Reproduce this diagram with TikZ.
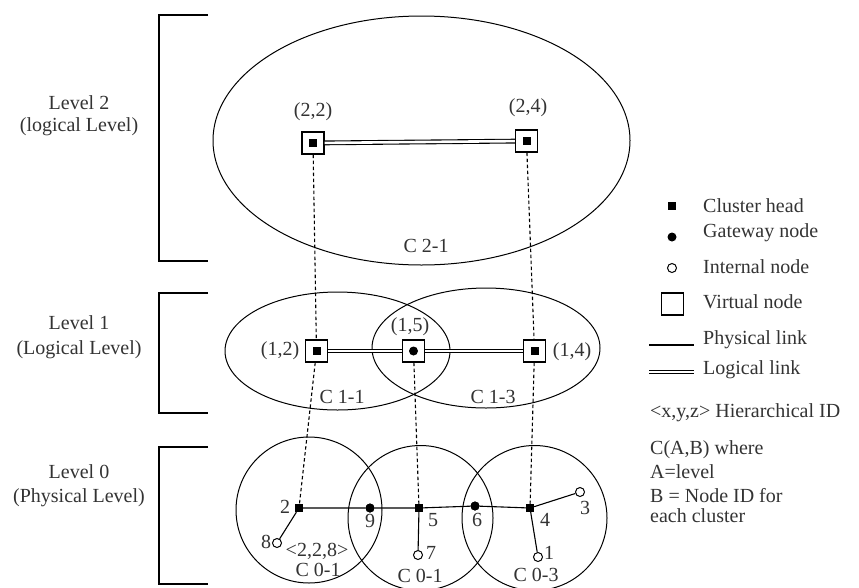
\documentclass[tikz,border=0pt]{standalone}
\usepackage{fontspec}
\setmainfont{Liberation Serif}
\begin{document}
\begin{tikzpicture}[x=1pt,y=-1pt,
  txt/.style={text=black!80, font=\fontsize{20}{22}\selectfont, inner sep=0pt},
  vnode/.style={draw, line width=1.3pt, minimum size=22pt, inner sep=0pt, fill=white},
  chead/.style={fill=black, minimum size=8pt, inner sep=0pt},
  gw/.style={circle, fill=black, minimum size=9pt, inner sep=0pt},
  inode/.style={circle, draw, line width=1pt, fill=white, minimum size=9pt, inner sep=0pt},
  clus/.style={line width=1pt},
  brk/.style={line width=1.5pt},
  vlink/.style={line width=1.1pt, dash pattern=on 3.5pt off 2.5pt},
  llink/.style={double, double distance=2.6pt, line width=1.1pt},
  plink/.style={line width=1.1pt}]
\useasboundingbox (0,0) rectangle (859,587);
% brackets
\draw[brk] (208,15) -- (159,15) -- (159,261) -- (208,261);
\draw[brk] (208,293) -- (159,293) -- (159,413) -- (208,413);
\draw[brk] (208,447) -- (159,447) -- (159,584) -- (208,584);
% level labels
\node[txt] (l2a) at (79,103) {Level 2};
\node[txt] (l2b) at (79,127) {(logical Level)};
\node[txt] (l1a) at (79,323) {Level 1};
\node[txt] (l1b) at (79,350) {(Logical Level)};
\node[txt] (l0a) at (79,472) {Level 0};
\node[txt] (l0b) at (79,498) {(Physical Level)};
% cluster outlines
\draw[clus] (421.5,140.5) ellipse [x radius=208.5pt, y radius=124.5pt];
\draw[clus] (337.5,351) ellipse [x radius=112.5pt, y radius=59pt];
\draw[clus] (486,348) ellipse [x radius=114pt, y radius=60pt];
\draw[clus] (309,510) circle [radius=73pt];
\draw[clus] (420.5,518) circle [radius=72.5pt];
\draw[clus] (534.5,518) circle [radius=72.5pt];
% level 2
\node[vnode] (v22) at (313,143) {};
\node[chead] (v22c) at (313,143) {};
\node[vnode] (v24) at (526.5,141) {};
\node[chead] (v24c) at (526.5,141) {};
\node[txt] (t22) at (313,112) {(2,2)};
\node[txt] (t24) at (528,108) {(2,4)};
\node[txt] (c21) at (426,246) {C 2-1};
% level 1
\node[vnode] (v12) at (316.5,351) {};
\node[chead] (v12c) at (316.5,351) {};
\node[vnode] (v15) at (413.5,351) {};
\node[gw] (v15c) at (413.5,351) {};
\node[vnode] (v14) at (534.5,351) {};
\node[chead] (v14c) at (534.5,351) {};
\node[txt] (t12) at (280,351) {(1,2)};
\node[txt] (t15) at (410,327) {(1,5)};
\node[txt] (t14) at (572,352) {(1,4)};
\node[txt] (c11) at (342,397) {C 1-1};
\node[txt] (c13) at (493,397) {C 1-3};
% level 0 nodes
\node[chead] (n2) at (299,508) {};
\node[gw] (n9) at (370,508) {};
\node[chead] (n5) at (419,508) {};
\node[gw] (n6) at (475,506) {};
\node[chead] (n4) at (530,508) {};
\node[inode] (n3) at (580,492) {};
\node[inode] (n1) at (538,557) {};
\node[inode] (n7) at (418,555) {};
\node[inode] (n8) at (277,543) {};
\node[txt] (t2) at (285,507) {2};
\node[txt] (t9) at (370,521) {9};
\node[txt] (t5) at (433,520) {5};
\node[txt] (t6) at (477,520) {6};
\node[txt] (t4) at (545,520) {4};
\node[txt] (t3) at (585,508) {3};
\node[txt] (t1) at (549,553) {1};
\node[txt] (t7) at (431,553) {7};
\node[txt] (t8) at (266,542) {8};
\node[txt] (hid) at (317,551) {<2,2,8>};
\node[txt] (c01a) at (318,570) {C 0-1};
\node[txt] (c01b) at (420,576) {C 0-1};
\node[txt] (c03) at (536,575) {C 0-3};
% logical links
\draw[llink] (v22) -- (v24);
\draw[llink] (v12) -- (v15);
\draw[llink] (v15) -- (v14);
% vertical (dashed) links
\draw[vlink] (v22) -- (v12);
\draw[vlink] (v24) -- (v14);
\draw[vlink] (v12) -- (n2);
\draw[vlink] (v15) -- (n5);
\draw[vlink] (v14) -- (n4);
% physical links
\draw[plink] (n2) -- (n9) -- (n5) -- (n6) -- (n4);
\draw[plink] (n2) -- (n8);
\draw[plink] (n5) -- (n7);
\draw[plink] (n4) -- (n3);
\draw[plink] (n4) -- (n1);
\node[chead] at (n2) {};
\node[gw] at (n9) {};
\node[chead] at (n5) {};
\node[gw] at (n6) {};
\node[chead] at (n4) {};
% legend
\node[chead] (k1) at (672,206) {};
\node[txt, anchor=west] (k1t) at (703,206) {Cluster head};
\node[gw] (k2) at (672,237) {};
\node[txt, anchor=west] (k2t) at (703,233) {Gateway node};
\node[inode] (k3) at (672,268) {};
\node[txt, anchor=west] (k3t) at (703,267) {Internal node};
\node[vnode] (k4) at (672.5,304) {};
\node[txt, anchor=west] (k4t) at (703,302) {Virtual node};
\coordinate (k5a) at (649,345);
\coordinate (k5b) at (694,345);
\draw[plink] (k5a) -- (k5b);
\node[txt, anchor=west] (k5t) at (703,340) {Physical link};
\coordinate (k6a) at (649,372);
\coordinate (k6b) at (694,372);
\draw[llink] (k6a) -- (k6b);
\node[txt, anchor=west] (k6t) at (703,370) {Logical link};
\node[txt, anchor=west] (k7) at (650,413) {<x,y,z> Hierarchical ID};
\node[txt, anchor=west] (k8) at (650,450) {C(A,B) where};
\node[txt, anchor=west] (k9) at (650,472) {A=level};
\node[txt, anchor=west] (k10) at (650,496) {B = Node ID for};
\node[txt, anchor=west] (k11) at (650,516) {each cluster};
\end{tikzpicture}
\end{document}
